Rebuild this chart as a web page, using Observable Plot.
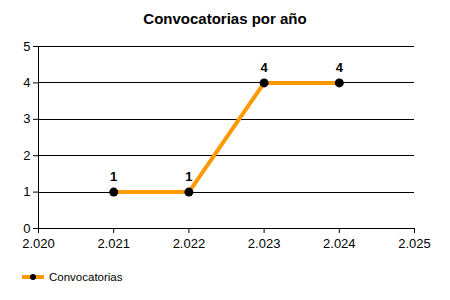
<!DOCTYPE html>
<html><head><meta charset="utf-8">
<script src="https://cdn.jsdelivr.net/npm/d3@7"></script>
<script src="https://cdn.jsdelivr.net/npm/@observablehq/plot@0.6"></script>
<style>
body{margin:0;background:#fff;font-family:"Liberation Sans",Arial,sans-serif;}
#wrap{width:450px;height:300px;position:relative;overflow:hidden;}
#title{height:38px;line-height:38px;text-align:center;font-weight:bold;font-size:15px;color:#000;}
#legend{position:absolute;left:22px;top:270px;display:flex;align-items:center;font-size:11.5px;color:#000;}
#legend span{margin-left:5px;}
svg line, svg path.grid{shape-rendering:crispEdges;}
</style></head>
<body><div id="wrap"><div id="title">Convocatorias por año</div><div id="chart"></div>
<div id="legend"><svg width="22" height="14"><line x1="0" y1="7" x2="22" y2="7" stroke="#ff9900" stroke-width="4"/><circle cx="11" cy="7" r="3" fill="#000"/></svg><span>Convocatorias</span></div></div>
<script>
const years = [2021, 2022, 2023, 2024];
const convocatorias = [1, 1, 4, 4];
const xTicks = [2020, 2021, 2022, 2023, 2024, 2025];
const yTicks = [0, 1, 2, 3, 4, 5];
const seriesName = "Convocatorias";

const data = years.map((y, i) => ({year: y, value: convocatorias[i]}));
const fmt = d3.formatLocale({thousands: ".", grouping: [3], decimal: ","}).format(",.0f");
const yfmt = d3.format("d");

const plot = Plot.plot({
  width: 450,
  height: 224,
  marginTop: 8,
  marginLeft: 38,
  marginRight: 36,
  marginBottom: 34,
  style: {fontFamily: "'Liberation Sans', Arial, sans-serif", fontSize: "13px", color: "#000", background: "#fff"},
  x: {domain: [2020, 2025], ticks: xTicks, tickFormat: fmt, label: null},
  y: {domain: [0, 5], ticks: yTicks, tickFormat: yfmt, label: null},
  marks: [
    Plot.ruleY(yTicks.filter(d => d > 0), {stroke: "#000", strokeWidth: 1, strokeOpacity: 1}),
    Plot.ruleY([0], {stroke: "#000", strokeWidth: 1.5}),
    Plot.ruleX([2020], {stroke: "#000", strokeWidth: 1.5}),
    Plot.axisX({ticks: xTicks, tickFormat: fmt, tickSize: 5, tickPadding: 5, stroke: "#000", fontSize: 13, label: null}),
    Plot.axisY({ticks: yTicks, tickFormat: yfmt, tickSize: 5, tickPadding: 3, stroke: "#000", fontSize: 13, label: null}),
    Plot.line(data, {x: "year", y: "value", stroke: "#ff9900", strokeWidth: 4}),
    Plot.dot(data, {x: "year", y: "value", r: 4.5, fill: "#000"}),
    Plot.text(data, {x: "year", y: "value", text: d => String(d.value), dy: -15, fontWeight: "bold", fontSize: 13, fill: "#000"})
  ]
});
document.getElementById("chart").appendChild(plot);
</script></body></html>
